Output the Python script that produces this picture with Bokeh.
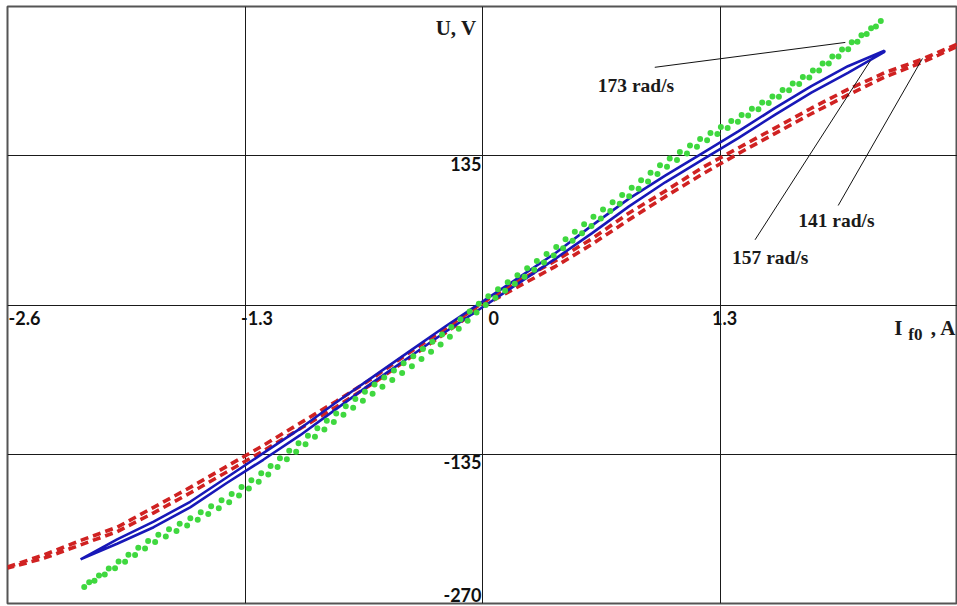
import numpy as np
from bokeh.plotting import figure
from bokeh.models import ColumnDataSource, FixedTicker, Range1d
from bokeh.core.properties import value
from bokeh.embed import file_html
from bokeh.resources import INLINE

# ---------------- data ----------------
x_grid_ticks = [-2.6, -1.3, 0, 1.3, 2.6]
y_grid_ticks = [-270, -135, 0, 135, 270]

x_tick_vals = [-2.6, -1.3, 0, 1.3]
x_tick_text = ["-2.6", "-1.3", "0", "1.3"]
y_tick_vals = [135, -135]
y_tick_text = ["135", "-135"]
y_bottom_val = [-270]
y_bottom_text = ["-270"]

y_axis_title = "U, V"
speed_labels = ["173 rad/s", "157 rad/s", "141 rad/s"]

# 173 rad/s (green dotted loop)
green_x = [-2.18, -2.0, -1.8, -1.6, -1.4, -1.2, -1.0, -0.8, -0.6, -0.4, -0.2, 0.0,
           0.2, 0.4, 0.6, 0.8, 1.0, 1.2, 1.4, 1.6, 1.8, 2.0, 2.19]
green_y_a = [-255, -237, -215, -198, -180, -157, -130, -104, -80, -57, -32, -2,
             22, 46, 72, 98, 124, 146, 166, 186, 207, 231, 257]
green_y_b = [-254, -233, -210, -193, -174, -151, -124, -98, -73, -49, -24, 4,
             28, 52, 79, 104, 130, 151, 170, 190, 211, 235, 258]

# 157 rad/s (blue solid loop)
blue_x = [-2.2, -2.0, -1.8, -1.6, -1.4, -1.2, -1.0, -0.8, -0.6, -0.4, -0.2, 0.0,
          0.2, 0.4, 0.6, 0.8, 1.0, 1.2, 1.4, 1.6, 1.8, 2.0, 2.2]
blue_y_a = [-230, -212, -196, -178, -156, -134, -112, -88, -65, -42, -19, 3,
            25, 47, 72, 96, 117, 137, 157, 178, 198, 216, 230]
blue_y_b = [-230, -216, -201, -183, -161, -140, -118, -94, -70, -47, -24, -2,
            20, 42, 65, 89, 111, 131, 151, 172, 192, 210, 229]

# 141 rad/s (red dashed loop)
red_x = [-2.6, -2.4, -2.2, -2.0, -1.8, -1.6, -1.4, -1.2, -1.0, -0.8, -0.6, -0.4, -0.2, 0.0,
         0.2, 0.4, 0.6, 0.8, 1.0, 1.2, 1.4, 1.6, 1.8, 2.0, 2.2, 2.4, 2.6]
red_y_a = [-237, -226, -213, -201, -183, -165, -146, -127, -107, -87, -66, -43, -21, 2,
           22, 40, 60, 83, 103, 124, 142, 160, 178, 195, 210, 222, 236]
red_y_b = [-238, -229, -217, -205, -188, -170, -151, -132, -112, -92, -71, -48, -25, -1,
           17, 35, 55, 77, 98, 118, 137, 155, 173, 190, 206, 219, 234]


def loop(xs, ya, yb):
    return list(xs) + list(xs)[::-1], list(ya) + list(yb)[::-1]


# ---------------- figure ----------------
p = figure(width=957, height=606,
           x_range=Range1d(-2.6, 2.6), y_range=Range1d(-270, 270),
           x_axis_location=None, y_axis_location=None,
           output_backend="svg", toolbar_location=None,
           min_border_left=7, min_border_right=0,
           min_border_top=6, min_border_bottom=3)
p.background_fill_color = "white"
p.border_fill_color = "white"
p.outline_line_color = "#555555"
p.outline_line_width = 2

p.xgrid.ticker = FixedTicker(ticks=x_grid_ticks)
p.ygrid.ticker = FixedTicker(ticks=y_grid_ticks)
for g in (p.xgrid, p.ygrid):
    g.grid_line_color = "#1a1a1a"
    g.grid_line_width = 1
    g.grid_line_alpha = 1.0

# curves
rx, ry = loop(red_x, red_y_a, red_y_b)
p.line(rx, ry, line_color="#d02222", line_width=3.6, line_dash="8 5")

bx, by = loop(blue_x, blue_y_a, blue_y_b)
p.line(bx, by, line_color="#1818b8", line_width=2.6)

gx, gy = loop(green_x, green_y_a, green_y_b)
p.line(gx, gy, line_color="#3fd83f", line_width=6, line_dash="0 12",
       line_cap="round")

# tick labels
tick_font = value("Lato")
xt = ColumnDataSource(dict(x=x_tick_vals, y=[0] * len(x_tick_vals), text=x_tick_text,
                           dx=[1, -4, 6, -8]))
p.text(x="x", y="y", text="text", source=xt, x_offset="dx", y_offset=6,
       text_font=tick_font, text_font_style="bold", text_font_size="18px",
       text_color="#111111", text_align="left", text_baseline="top")

yt = ColumnDataSource(dict(x=[0] * len(y_tick_vals), y=y_tick_vals, text=y_tick_text))
p.text(x="x", y="y", text="text", source=yt, x_offset=-1, y_offset=1,
       text_font=tick_font, text_font_style="bold", text_font_size="18px",
       text_color="#111111", text_align="right", text_baseline="top")

yb = ColumnDataSource(dict(x=[0], y=y_bottom_val, text=y_bottom_text))
p.text(x="x", y="y", text="text", source=yb, x_offset=-1, y_offset=-2,
       text_font=tick_font, text_font_style="bold", text_font_size="18px",
       text_color="#111111", text_align="right", text_baseline="bottom")

# axis titles
serif = value("Liberation Serif")
p.text(x=[0], y=[270], text=[y_axis_title], x_offset=-6, y_offset=21,
       text_font=serif, text_font_style="bold", text_font_size="21px",
       text_color="#1a1a1a", text_align="right", text_baseline="alphabetic")

p.text(x=[2.6], y=[0], text=[", A"], x_offset=-1, y_offset=23,
       text_font=serif, text_font_style="bold", text_font_size="21px",
       text_color="#1a1a1a", text_align="right", text_baseline="alphabetic")
p.text(x=[2.6], y=[0], text=["f0"], x_offset=-35, y_offset=29,
       text_font=serif, text_font_style="bold", text_font_size="17px",
       text_color="#1a1a1a", text_align="right", text_baseline="alphabetic")
p.text(x=[2.6], y=[0], text=["I"], x_offset=-55, y_offset=23,
       text_font=serif, text_font_style="bold", text_font_size="21px",
       text_color="#1a1a1a", text_align="right", text_baseline="alphabetic")

# speed annotations with leader lines
p.segment(x0=[0.943, 1.492, 1.947], y0=[215, 59, 90],
          x1=[1.986, 2.123, 2.408], y1=[237.5, 221, 223],
          line_color="#111111", line_width=1)
p.text(x=[0.631, 1.366, 1.728], y=[198.7, 43.3, 76.8], text=speed_labels,
       text_font=serif, text_font_style="bold", text_font_size="19.5px",
       text_color="#1a1a1a", text_align="left", text_baseline="alphabetic")

open("out.html", "w").write(file_html(p, INLINE))
